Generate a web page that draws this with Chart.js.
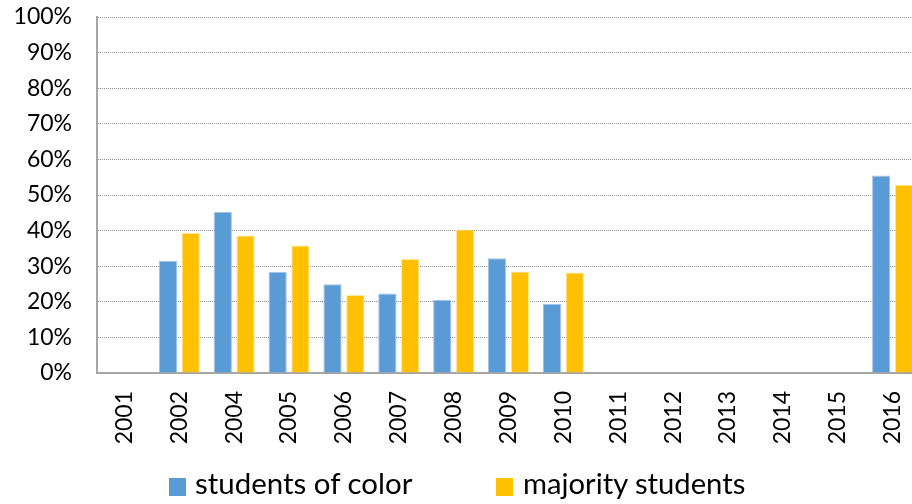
<!DOCTYPE html>
<html>
<head>
<meta charset="utf-8">
<script src="https://cdn.jsdelivr.net/npm/chart.js@4/dist/chart.umd.min.js"></script>
<style>
  html, body { margin: 0; padding: 0; background: #fff; overflow: hidden; width: 912px; height: 504px; }
  #wrap { position: relative; width: 920px; height: 504px; }
  #c { position: absolute; left: 0; top: 0; }
  .leg { position: absolute; font-family: Lato, sans-serif; color: #000; white-space: nowrap; line-height: 1; }
  .box { position: absolute; width: 17px; height: 18px; }
</style>
</head>
<body>
<div id="wrap">
  <canvas id="c" width="920" height="504"></canvas>
  <div class="box" id="b1" style="left:169px; top:478px; background:#5B9BD5;"></div>
  <div class="leg" id="t1"></div>
  <div class="box" id="b2" style="left:496px; top:478px; background:#FFC000;"></div>
  <div class="leg" id="t2"></div>
</div>
<script>
const categories = ['2001','2002','2004','2005','2006','2007','2008','2009','2010','2011','2012','2013','2014','2015','2016'];
const studentsOfColor = [null, 31.5, 45.3, 28.4, 24.9, 22.3, 20.5, 32.2, 19.4, null, null, null, null, null, 55.5];
const majorityStudents = [null, 39.3, 38.6, 35.8, 21.9, 32.0, 40.3, 28.5, 28.2, null, null, null, null, null, 52.9];
const seriesNames = ['students of color', 'majority students'];

function fitLegend(id, text, left, targetWidth) {
  const ctx = document.createElement('canvas').getContext('2d');
  ctx.font = '28px Lato';
  const w = ctx.measureText(text).width;
  const size = 28 * targetWidth / w;
  const el = document.getElementById(id);
  el.textContent = text;
  el.style.fontSize = size.toFixed(2) + 'px';
  el.style.left = left + 'px';
  el.style.top = (497 - size * 0.987) + 'px';
}

function noPad(s) { s.paddingTop = 0; s.paddingBottom = 0; s.paddingLeft = 0; s.paddingRight = 0; }

function draw() {
  fitLegend('t1', seriesNames[0], 195, 218);
  fitLegend('t2', seriesNames[1], 523, 223);

  Chart.defaults.font.family = 'Lato';
  new Chart(document.getElementById('c'), {
    type: 'bar',
    data: {
      labels: categories,
      datasets: [
        { label: seriesNames[0], data: studentsOfColor, backgroundColor: '#5B9BD5', borderColor: '#9DC3E6', borderWidth: 1 },
        { label: seriesNames[1], data: majorityStudents, backgroundColor: '#FFC000', borderColor: '#FFE699', borderWidth: 1 }
      ]
    },
    options: {
      responsive: false,
      animation: false,
      layout: { padding: { top: 17, left: 0, right: 0, bottom: 0 } },
      datasets: { bar: { barPercentage: 0.8, categoryPercentage: 0.83 } },
      plugins: { legend: { display: false }, tooltip: { enabled: false } },
      scales: {
        x: {
          grid: { display: false, drawTicks: false },
          border: { display: true, color: '#A6A6A6', width: 2 },
          ticks: { color: '#000', font: { size: 23 }, minRotation: 90, maxRotation: 90, padding: 18, autoSkip: false },
          afterFit: s => { s.height = 131; noPad(s); }
        },
        y: {
          min: 0, max: 100,
          grid: { color: '#8f8f8f', lineWidth: 1, drawTicks: false },
          border: { display: true, color: '#A6A6A6', width: 2, dash: [1, 1] },
          ticks: { stepSize: 10, color: '#000', font: { size: 23 }, padding: 25, callback: v => v + '%' },
          afterFit: s => { s.width = 97; noPad(s); }
        }
      }
    }
  });
}

if (document.fonts && document.fonts.load) {
  Promise.all([document.fonts.load('23px Lato'), document.fonts.load('28px Lato')]).then(draw, draw);
} else { draw(); }
</script>
</body>
</html>
